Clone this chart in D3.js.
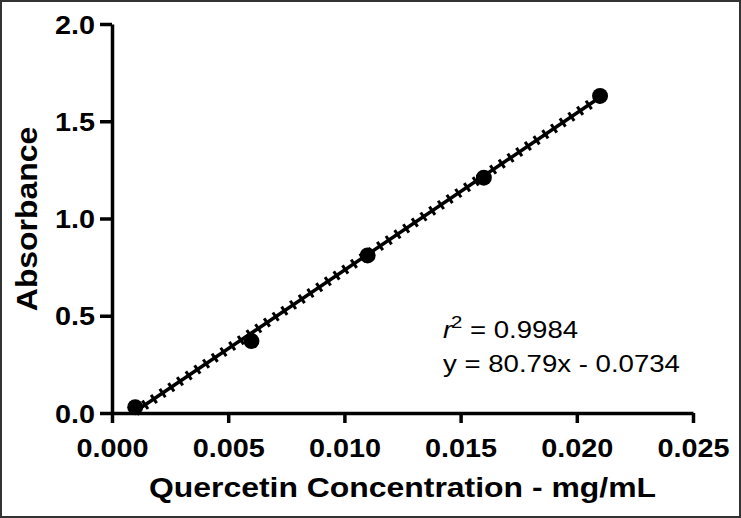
<!DOCTYPE html>
<html>
<head>
<meta charset="utf-8">
<script src="https://cdn.jsdelivr.net/npm/d3@7"></script>
<style>
  body { margin: 0; background: #fff; }
  svg { display: block; font-family: Arial, 'Liberation Sans', sans-serif; }
</style>
</head>
<body>
<svg id="chart" width="741" height="518"></svg>
<script>
// data
const concentration = [0.001, 0.006, 0.011, 0.016, 0.021]
const absorbance = [0.03, 0.37, 0.81, 1.21, 1.63]
const slope = 80.79
const intercept = -0.0734
const xTicks = [0, 0.005, 0.01, 0.015, 0.02, 0.025]
const yTicks = [0, 0.5, 1.0, 1.5, 2.0]

const width = 741
const height = 518
const margins = { top: 24, right: 48, bottom: 105, left: 112 }

const svg = d3.select('#chart')

// frame round the picture
svg.append('rect')
  .attr('x', 1).attr('y', 1)
  .attr('width', width - 2).attr('height', height - 2)
  .attr('fill', '#fff')
  .attr('stroke', '#333')
  .attr('stroke-width', 2)

const x = d3.scaleLinear()
  .domain([0, 0.025])
  .range([margins.left, width - margins.right])

const y = d3.scaleLinear()
  .domain([0, 2])
  .range([height - margins.bottom, margins.top])

// the font in the reference runs wider than Arial, so stretch along the text
const sx = 1.13

const xAxis = svg.append('g')
  .attr('transform', `translate(0,${y(0)})`)
  .call(d3.axisBottom(x).tickValues(xTicks).tickFormat(d3.format('.3f')).tickSize(10).tickSizeOuter(0))

const yAxis = svg.append('g')
  .attr('transform', `translate(${x(0)},0)`)
  .call(d3.axisLeft(y).tickValues(yTicks).tickFormat(d3.format('.1f')).tickSize(12).tickSizeOuter(0))

for (const g of [xAxis, yAxis]) {
  g.select('.domain').attr('stroke', '#000').attr('stroke-width', 3.5)
  g.selectAll('.tick line').attr('stroke', '#000').attr('stroke-width', 3.5)
  g.selectAll('.tick text')
    .attr('fill', '#000')
    .attr('font-size', 25.5)
    .attr('font-weight', 'bold')
    .attr('font-family', "Arial, 'Liberation Sans', sans-serif")
}

xAxis.selectAll('.tick text')
  .attr('y', 0).attr('dy', 0)
  .attr('transform', `translate(0,44) scale(${sx},1)`)

yAxis.selectAll('.tick text')
  .attr('x', 0).attr('dy', 0)
  .attr('transform', `translate(-17,9) scale(${sx},1)`)

// axis titles
svg.append('text')
  .attr('transform', `translate(${(x(0) + x(0.025)) / 2},497) scale(1.14,1)`)
  .attr('text-anchor', 'middle')
  .attr('font-size', 28)
  .attr('font-weight', 'bold')
  .text('Quercetin Concentration - mg/mL')

svg.append('text')
  .attr('transform', `translate(37,219) rotate(-90) scale(1.1,1)`)
  .attr('text-anchor', 'middle')
  .attr('font-size', 29)
  .attr('font-weight', 'bold')
  .text('Absorbance')

// fitted line with its confidence band ticks
const fitX = d3.extent(concentration)
const fit = fitX.map(c => ({ c, a: slope * c + intercept }))

const line = d3.line()
  .x(d => x(d.c))
  .y(d => y(d.a))

svg.append('path')
  .datum(fit)
  .attr('fill', 'none')
  .attr('stroke', '#000')
  .attr('stroke-width', 3.5)
  .attr('d', line)

svg.append('path')
  .datum(fit)
  .attr('fill', 'none')
  .attr('stroke', '#000')
  .attr('stroke-width', 10)
  .attr('stroke-dasharray', '3,7.5')
  .attr('d', line)

// measured points
svg.append('g')
  .selectAll('circle')
  .data(concentration)
  .join('circle')
  .attr('cx', d => x(d))
  .attr('cy', (d, i) => y(absorbance[i]))
  .attr('r', 8)
  .attr('fill', '#000')

// regression note
const note = svg.append('g').attr('font-size', 23).attr('fill', '#000')

const r2 = note.append('text')
  .attr('transform', `translate(443,338) scale(1.2,1)`)
r2.append('tspan').attr('font-style', 'italic').text('r')
r2.append('tspan').attr('font-size', 17).attr('dy', -10).attr('dx', -1).text('2')
r2.append('tspan').attr('dy', 10).text(' = 0.9984')

note.append('text')
  .attr('transform', `translate(443,372) scale(1.2,1)`)
  .text(`y = ${slope}x - ${Math.abs(intercept)}`)
</script>
</body>
</html>
